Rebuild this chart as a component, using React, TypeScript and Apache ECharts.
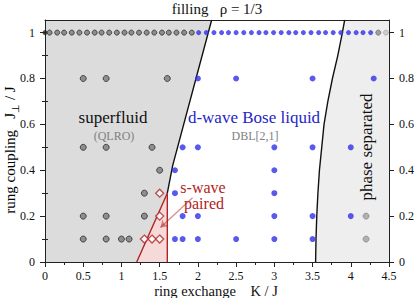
import React, { useEffect, useRef } from "react";
import * as echarts from "echarts";

const FONT = "Liberation Serif, Times New Roman, serif";
const Y_MAX = 1.055;

// y tick positions
const yMajorTicks = [0, 0.2, 0.4, 0.6, 0.8, 1];
const yMinorTicks = [0.1, 0.3, 0.5, 0.7, 0.9];

// top row (J_perp = 1) scan
const topRowGrayK = [0.06, 0.16, 0.25, 0.35, 0.45, 0.55, 0.65, 0.74, 0.84, 0.94, 1.04, 1.13, 1.23, 1.33, 1.43, 1.53, 1.62, 1.72, 1.82, 1.92];
const topRowBlueK = [2.01, 2.11, 2.21, 2.31, 2.4, 2.5, 2.6, 2.7, 2.8, 2.89, 2.99, 3.09, 3.19, 3.28, 3.38, 3.48, 3.58, 3.67, 3.77, 3.87, 3.97, 4.07, 4.16, 4.26];
const topRowPsK = [4.36];
const topRowPsLightK = [4.46];
const topRowOriginK = [0];

// superfluid points
const sfK = [0.5, 0.8, 1.6, 0.5, 0.8, 1.4, 1.5, 1.3, 0.5, 0.8, 1.3, 0.5, 0.8, 1.0, 1.1];
const sfJ = [0.8, 0.8, 0.8, 0.5, 0.5, 0.5, 0.4, 0.3, 0.2, 0.2, 0.2, 0.1, 0.1, 0.1, 0.1];

// d-wave Bose liquid points
const dblK = [2.0, 2.5, 3.5, 4.3, 1.8, 2.0, 3.0, 3.5, 4.0, 1.7, 3.0, 1.7, 3.0, 1.8, 2.0, 3.0, 3.5, 4.0, 1.7, 1.8, 2.0, 2.5, 3.0, 3.5];
const dblJ = [0.8, 0.8, 0.8, 0.8, 0.5, 0.5, 0.5, 0.5, 0.5, 0.4, 0.4, 0.3, 0.3, 0.2, 0.2, 0.2, 0.2, 0.2, 0.1, 0.1, 0.1, 0.1, 0.1, 0.1];

// s-wave paired points
const swK = [1.5, 1.5, 1.3, 1.4, 1.5];
const swJ = [0.3, 0.2, 0.1, 0.1, 0.1];

// phase separated points
const psK = [4.2, 4.2];
const psJ = [0.2, 0.1];

// phase boundaries
const sfBoundary = [[2.18, Y_MAX], [1.67, 0.42], [1.6, 0.3]];
const swBoundary = [[1.6, 0.3], [1.2, 0]];
const swRight = [[1.6, 0], [1.6, 0.3]];
const psBoundary = [[3.54, 0], [3.545, 0.1], [3.555, 0.2], [3.57, 0.3], [3.59, 0.4], [3.62, 0.5], [3.65, 0.6], [3.7, 0.7], [3.76, 0.8], [3.83, 0.9], [3.89, 1.0], [3.92, Y_MAX]];

// arrow
const arrowCoords = [[1.93, 0.28], [1.51, 0.15]];

const pairs = (xs: number[], ys: number[]) => xs.map((x, i) => [x, ys[i]]);
const row = (xs: number[], y: number) => xs.map((x) => [x, y]);

const polygonSeries = (poly: number[][], fill: string, z: number) => ({
  type: "custom",
  coordinateSystem: "cartesian2d",
  silent: true,
  z,
  data: [[0, 0]],
  renderItem: (_p: any, api: any) => ({
    type: "polygon",
    shape: { points: poly.map((p) => api.coord(p)) },
    style: { fill, stroke: "none" },
  }),
});

export default function App() {
  const ref = useRef<HTMLDivElement>(null);
  useEffect(() => {
    if (!ref.current) return;
    const chart = echarts.init(ref.current, undefined, { renderer: "svg" });

    const sfPoly = [[0, 0], [0, Y_MAX], ...sfBoundary, [1.2, 0]];
    const swPoly = [[1.2, 0], [1.6, 0.3], [1.6, 0]];
    const psPoly = [...psBoundary, [4.5, Y_MAX], [4.5, 0]];

    const axisColor = "#222";
    const labelStyle = { color: "#111", fontFamily: FONT, fontSize: 12, lineHeight: 12 };

    const lineSeries = (data: number[][], color: string) => ({
      type: "line",
      data,
      symbol: "none",
      z: 3,
      lineStyle: { color, width: 1.4 },
      silent: true,
    });

    const txt = (text: string, x: number, y: number, size: number, fill: string, rotation = 0) => ({
      type: "text",
      z: 100,
      x,
      y,
      rotation,
      style: { text, fontFamily: FONT, fontSize: size, fill, textAlign: "center", textVerticalAlign: "middle" },
    });

    chart.setOption({
      animation: false,
      grid: { left: 45, right: 26, top: 20, bottom: 36, outerBoundsMode: "none", containLabel: false },
      xAxis: [
        {
          type: "value",
          min: 0,
          max: 4.5,
          interval: 0.5,
          position: "bottom",
          axisLine: { show: true, onZero: false, lineStyle: { color: axisColor, width: 1 } },
          axisTick: { show: true, length: 5, lineStyle: { color: axisColor } },
          minorTick: { show: true, splitNumber: 2, length: 3, lineStyle: { color: axisColor } },
          axisLabel: { ...labelStyle, margin: 8 },
          splitLine: { show: false },
          minorSplitLine: { show: false },
        },
        {
          type: "value",
          min: 0,
          max: 4.5,
          position: "top",
          axisLine: { show: true, onZero: false, lineStyle: { color: axisColor, width: 1 } },
          axisTick: { show: false },
          axisLabel: { show: false },
          splitLine: { show: false },
        },
      ],
      yAxis: [
        {
          type: "value",
          min: 0,
          max: Y_MAX,
          position: "left",
          axisLine: { show: true, onZero: false, lineStyle: { color: axisColor, width: 1 } },
          axisTick: { show: true, length: 5, customValues: yMajorTicks, lineStyle: { color: axisColor } },
          axisLabel: { ...labelStyle, margin: 10, customValues: yMajorTicks },
          splitLine: { show: false },
        },
        {
          type: "value",
          min: 0,
          max: Y_MAX,
          position: "left",
          axisLine: { show: false },
          axisTick: { show: true, length: 3, customValues: yMinorTicks, lineStyle: { color: axisColor } },
          axisLabel: { show: false },
          splitLine: { show: false },
        },
        {
          type: "value",
          min: 0,
          max: Y_MAX,
          position: "right",
          axisLine: { show: true, onZero: false, lineStyle: { color: axisColor, width: 1 } },
          axisTick: { show: true, length: 5, customValues: yMajorTicks, lineStyle: { color: axisColor } },
          axisLabel: { ...labelStyle, margin: 10, customValues: yMajorTicks },
          splitLine: { show: false },
        },
        {
          type: "value",
          min: 0,
          max: Y_MAX,
          position: "right",
          axisLine: { show: false },
          axisTick: { show: true, length: 3, customValues: yMinorTicks, lineStyle: { color: axisColor } },
          axisLabel: { show: false },
          splitLine: { show: false },
        },
      ],
      series: [
        polygonSeries(sfPoly, "#dcdcdc", 0),
        polygonSeries(swPoly, "#f6d9d9", 0),
        polygonSeries(psPoly, "#eeeeee", 0),
        lineSeries(sfBoundary, "#111"),
        lineSeries(psBoundary, "#111"),
        lineSeries(swBoundary, "#b22222"),
        lineSeries(swRight, "#b22222"),
        {
          type: "lines",
          coordinateSystem: "cartesian2d",
          z: 4,
          symbol: ["none", "arrow"],
          symbolSize: 7,
          lineStyle: { color: "#b22222", width: 1.3 },
          data: [{ coords: arrowCoords }],
          silent: true,
        },
        {
          type: "scatter",
          z: 5,
          symbolSize: 6,
          itemStyle: { color: "#7a7a7a", borderColor: "#2a2a2a", borderWidth: 1 },
          data: pairs(sfK, sfJ),
        },
        {
          type: "scatter",
          z: 5,
          symbolSize: 5,
          itemStyle: { color: "#7a7a7a", borderColor: "#2a2a2a", borderWidth: 1 },
          data: row(topRowGrayK, 1),
        },
        {
          type: "scatter",
          z: 5,
          symbolSize: 5,
          itemStyle: { color: "#222" },
          data: row(topRowOriginK, 1),
        },
        {
          type: "scatter",
          z: 5,
          symbolSize: 6,
          itemStyle: { color: "#3030e8" },
          data: pairs(dblK, dblJ),
        },
        {
          type: "scatter",
          z: 5,
          symbolSize: 5,
          itemStyle: { color: "#3030e8" },
          data: row(topRowBlueK, 1),
        },
        {
          type: "scatter",
          z: 5,
          symbolSize: 6,
          itemStyle: { color: "#a0a0a0", borderColor: "#8a8a8a", borderWidth: 1 },
          data: pairs(psK, psJ),
        },
        {
          type: "scatter",
          z: 5,
          symbolSize: 5,
          itemStyle: { color: "#8c8c8c", borderColor: "#6a6a6a", borderWidth: 1 },
          data: row(topRowPsK, 1),
        },
        {
          type: "scatter",
          z: 5,
          symbolSize: 5,
          itemStyle: { color: "#c4c4c4", borderColor: "#aaaaaa", borderWidth: 1 },
          data: row(topRowPsLightK, 1),
        },
        {
          type: "scatter",
          z: 5,
          symbol: "diamond",
          symbolSize: 8,
          itemStyle: { color: "#ffffff", borderColor: "#b22222", borderWidth: 1.3 },
          data: pairs(swK, swJ),
        },
      ],
      graphic: [
        txt("filling   \u03c1 = 1/3", 217, 9, 15, "#111"),
        txt("ring exchange    K / J", 216, 290.5, 14.5, "#111"),
        {
          type: "text",
          z: 100,
          x: 10,
          y: 150,
          rotation: Math.PI / 2,
          style: {
            text: "{a|rung coupling   J}{s|\u22a5}{a| / J}",
            textAlign: "center",
            textVerticalAlign: "middle",
            rich: {
              a: { fontFamily: FONT, fontSize: 15, color: "#111", lineHeight: 20 },
              s: { fontFamily: FONT, fontSize: 10, color: "#111", lineHeight: 10, verticalAlign: "bottom", padding: [6, 0, 0, 0] },
            },
          },
        },
        txt("superfluid", 113, 117, 17, "#111"),
        txt("(QLRO)", 114, 136, 12, "#808080"),
        txt("d-wave Bose liquid", 254, 117, 17, "#2424c8"),
        txt("DBL[2,1]", 255, 136, 12, "#808080"),
        txt("phase separated", 366, 147, 17, "#111", Math.PI / 2),
        txt("s-wave", 203, 187, 16, "#b22222"),
        txt("paired", 204, 203, 16, "#b22222"),
      ],
    });
    return () => chart.dispose();
  }, []);
  return <div ref={ref} style={{ width: 415, height: 298, position: "absolute", left: 0, top: 0 }} />;
}
